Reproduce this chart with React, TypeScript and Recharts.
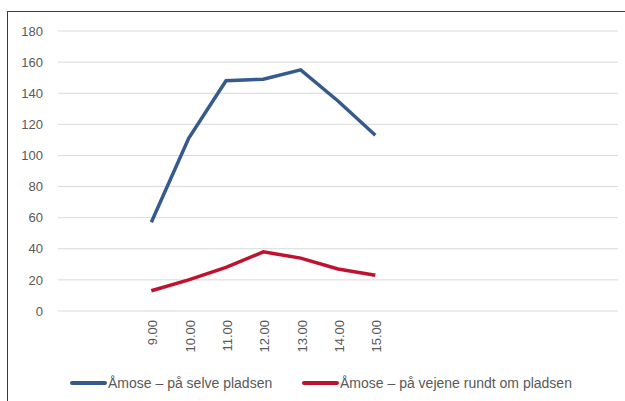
import { LineChart, Line, XAxis, YAxis, CartesianGrid, Legend } from 'recharts';

// 15 category slots on the axis, only 9.00–15.00 carry labels and data
const categories = ['', '', '9.00', '10.00', '11.00', '12.00', '13.00', '14.00', '15.00', '', '', '', '', '', ''];
const onSite = [null, null, 57, 111, 148, 149, 155, 135, 113, null, null, null, null, null, null];
const onRoads = [null, null, 13, 20, 28, 38, 34, 27, 23, null, null, null, null, null, null];
const yTicks = [0, 20, 40, 60, 80, 100, 120, 140, 160, 180];

const SITE_NAME = 'Åmose – på selve pladsen';
const ROADS_NAME = 'Åmose – på vejene rundt om pladsen';
const BLUE = '#355A8C';
const RED = '#C0122F';
const FONT = '"Liberation Sans", Arial, sans-serif';

const data = categories.map((cat, i) => ({ idx: i, cat, site: onSite[i], roads: onRoads[i] }));
const xTicks = data.filter((d) => d.cat !== '').map((d) => d.idx);

const XTick = ({ x, y, payload }: any) => (
  <text
    x={0}
    y={0}
    transform={`translate(${x + 6},${y + 1}) rotate(-90)`}
    textAnchor="end"
    fill="#595959"
    fontSize={13}
    fontFamily={FONT}
  >
    {categories[payload.value]}
  </text>
);

const LegendBox = () => (
  <div style={{ position: 'relative', height: 20, fontFamily: FONT, fontSize: 14, color: '#595959' }}>
    {[
      { left: 52, color: BLUE, name: SITE_NAME },
      { left: 284, color: RED, name: ROADS_NAME },
    ].map((it) => (
      <div key={it.name} style={{ position: 'absolute', left: it.left, top: 0, display: 'flex', alignItems: 'center', height: 20, whiteSpace: 'nowrap' }}>
        <span style={{ display: 'inline-block', width: 37, height: 4, borderRadius: 2, background: it.color }} />
        <span style={{ marginLeft: 1 }}>{it.name}</span>
      </div>
    ))}
  </div>
);

export default function App() {
  return (
    <div
      style={{
        position: 'absolute',
        left: 7,
        top: 11,
        width: 640,
        height: 400,
        borderLeft: '1px solid #3a3a3a',
        borderTop: '1px solid #3a3a3a',
        background: '#fff',
      }}
    >
      <LineChart width={620} height={385} data={data} margin={{ top: 19, right: 10, bottom: 4, left: 10 }}>
        <CartesianGrid vertical={false} stroke="#D9D9D9" strokeWidth={1} />
        <XAxis
          dataKey="idx"
          type="number"
          domain={[-0.5, categories.length - 0.5]}
          ticks={xTicks}
          interval={0}
          axisLine={false}
          tickLine={false}
          height={62}
          tick={<XTick />}
        />
        <YAxis
          domain={[0, 180]}
          ticks={yTicks}
          width={40}
          axisLine={false}
          tickLine={false}
          tickMargin={9}
          tick={{ fill: '#595959', fontSize: 13, fontFamily: FONT }}
        />
        <Legend verticalAlign="bottom" content={<LegendBox />} />
        <Line
          dataKey="site"
          name={SITE_NAME}
          stroke={BLUE}
          strokeWidth={3.5}
          dot={false}
          isAnimationActive={false}
        />
        <Line
          dataKey="roads"
          name={ROADS_NAME}
          stroke={RED}
          strokeWidth={3.5}
          dot={false}
          isAnimationActive={false}
        />
      </LineChart>
    </div>
  );
}
